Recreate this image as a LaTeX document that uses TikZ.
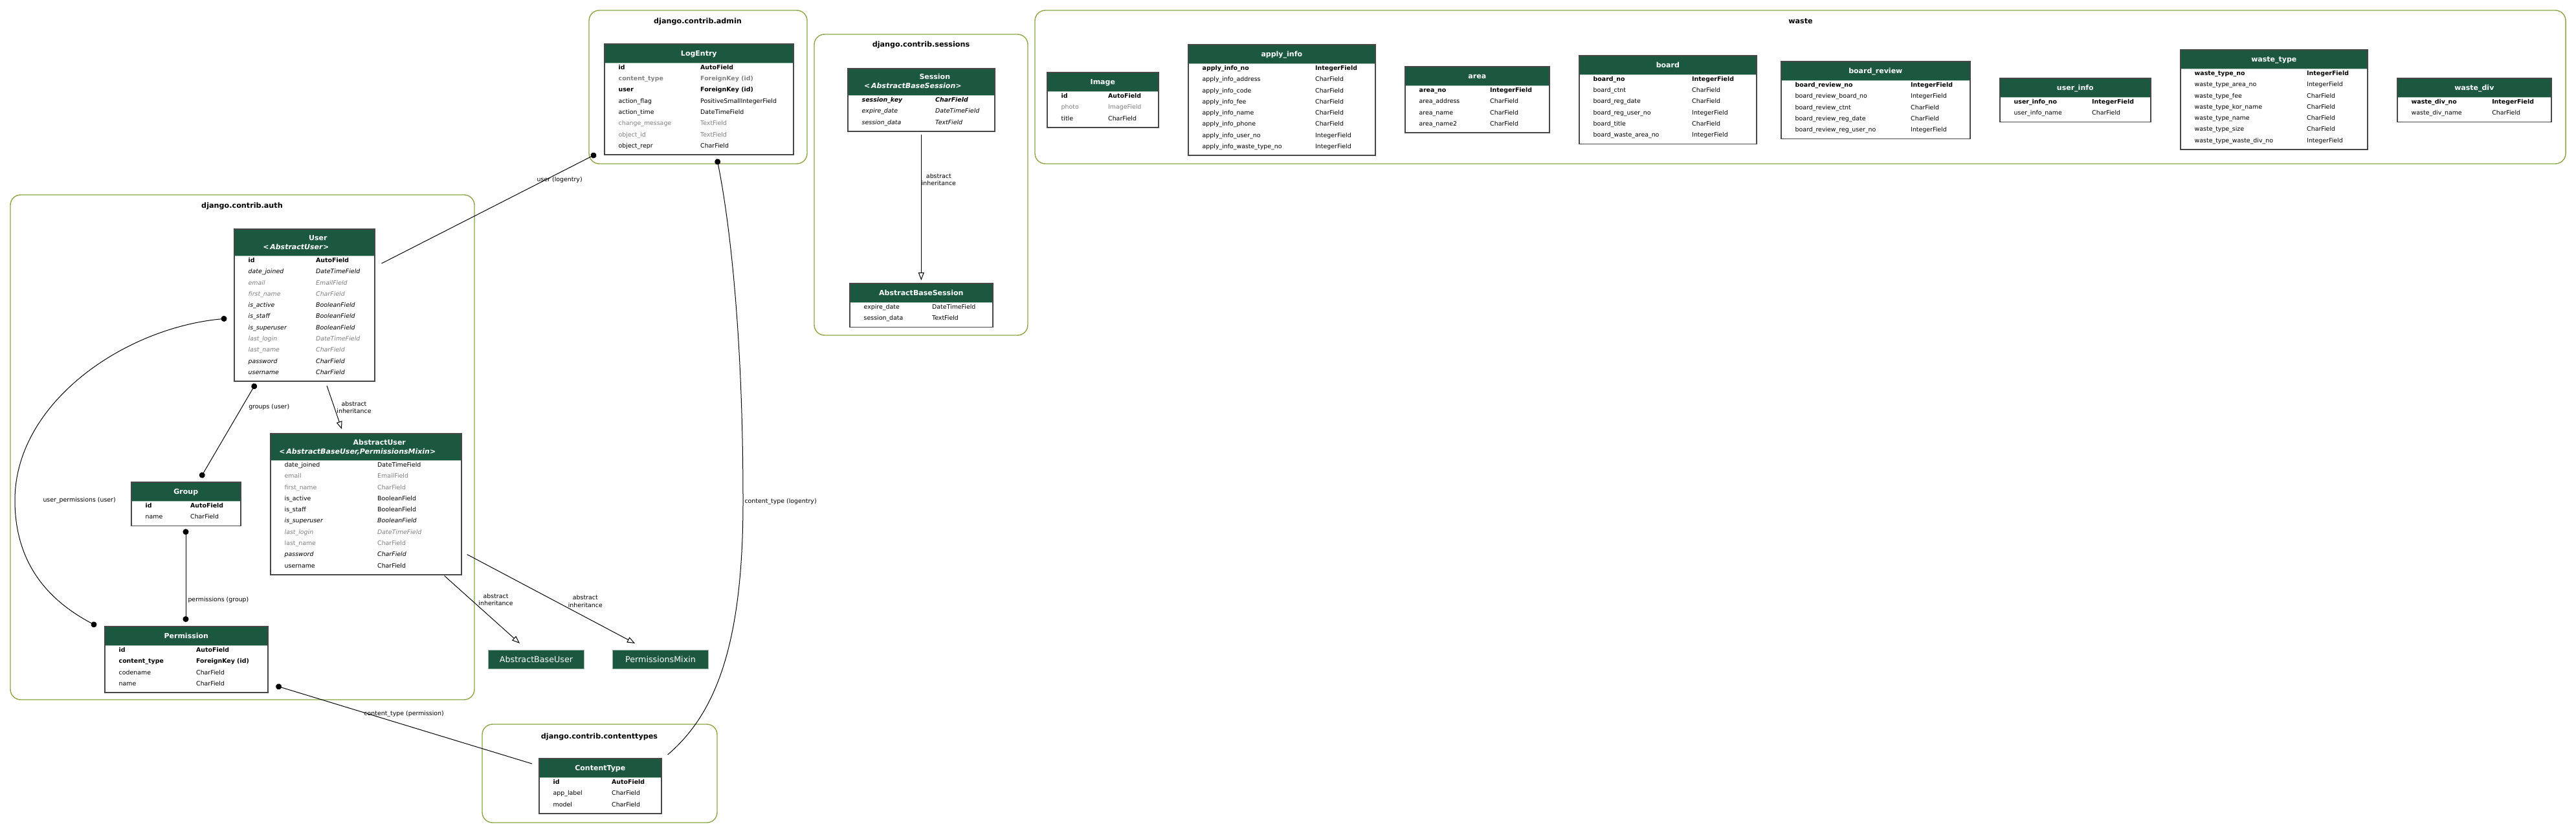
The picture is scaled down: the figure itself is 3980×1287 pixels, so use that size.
\documentclass[tikz,border=0pt]{standalone}
\usepackage{fontspec}
\setmainfont{DejaVu Sans}
\usetikzlibrary{arrows.meta}

\definecolor{hdrgreen}{RGB}{28,88,64}
\definecolor{pkgolive}{RGB}{140,165,70}
\definecolor{fldgray}{RGB}{128,128,128}

\newcommand{\fldfont}{\fontsize{9.4}{11}\selectfont}
\newcommand{\hdrfont}{\fontsize{11}{13}\selectfont\bfseries}

\tikzset{
  pkg/.style={draw=pkgolive, line width=1.4pt, rounded corners=16pt},
  pkgtitle/.style={font=\fontsize{11.2}{13}\selectfont\bfseries, inner sep=0pt, anchor=base},
  tablebox/.style={draw=black!72, line width=1.6pt, fill=white, inner sep=0pt, anchor=north west},
  hdrline/.style={draw=hdrgreen!35!white, line width=0.8pt},
  hdrtext/.style={text=white, font=\hdrfont, inner sep=0pt, anchor=base},
  fn/.style={font=\fldfont, inner sep=0pt, anchor=base west},
  fb/.style={fn, font=\fldfont\bfseries},
  fg/.style={fn, text=fldgray},
  fbg/.style={fb, text=fldgray},
  fi/.style={fn, font=\fldfont\itshape},
  fig/.style={fi, text=fldgray},
  fbi/.style={fn, font=\fldfont\bfseries\itshape},
  fk/.style={line width=1pt},
  dotend/.style={-{Circle[length=9pt]}},
  dotstart/.style={{Circle[length=9pt]}-},
  dotboth/.style={{Circle[length=9pt]}-{Circle[length=9pt]}},
  inh/.style={line width=1pt, -{Triangle[open, length=12pt, width=9pt]}},
  lbl/.style={font=\fontsize{9.4}{11.5}\selectfont, inner sep=0pt, align=center},
  stub/.style={fill=hdrgreen, draw=hdrgreen!45!white, line width=1pt, text=white,
    font=\fontsize{12.7}{14}\selectfont, minimum width=148pt, minimum height=29pt,
    inner sep=0pt, anchor=north west}
}

% [parents]{name}{left}{top}{width}{type column}{title}{rows}
\newcommand{\modeltable}[8][]{%
  \if\relax\detokenize{#1}\relax\def\hdrh{30}\else\def\hdrh{42}\fi
  \foreach \x [count=\k] in {#8} {\xdef\nrows{\k}}
  \pgfmathsetmacro{\tabh}{\hdrh+\nrows*17.3+3}
  \node[tablebox, minimum width=#5pt, minimum height=\tabh pt] (#2) at (#3,#4) {};
  \fill[hdrgreen] ([shift={(1.6pt,-1.6pt)}]#2.north west) rectangle ([shift={(-1.6pt,-\hdrh pt)}]#2.north east);
  \draw[hdrline] ([shift={(1.6pt,-\hdrh pt)}]#2.north west) -- ([shift={(-1.6pt,-\hdrh pt)}]#2.north east);
  \if\relax\detokenize{#1}\relax
    \node[hdrtext] (#2-title) at ([yshift=-19.5pt]#2.north) {#7};
  \else
    \node[hdrtext] (#2-title) at ([shift={(21pt,-18pt)}]#2.north) {#7};
    \node[hdrtext] (#2-parents) at ([shift={(-13pt,-32pt)}]#2.north) {<\,\textit{#1}>};
  \fi
  \foreach \st/\fname/\ftype [count=\k] in {#8} {
    \pgfmathsetmacro{\rowy}{\hdrh+10.4+(\k-1)*17.3}
    \node[\st] (#2-n\k) at ([shift={(22.5pt,-\rowy pt)}]#2.north west) {\fname};
    \node[\st] (#2-t\k) at ([shift={(#6pt,-\rowy pt)}]#2.north west) {\ftype};
  }
}

\begin{document}
\begin{tikzpicture}[x=1pt, y=-1pt]
  \path[use as bounding box, fill=white] (0,0) rectangle (3980,1287);

  % App frames
  \draw[pkg] (16,301) rectangle (733,1081);
  \node[pkgtitle] (auth) at (374,321) {django.contrib.auth};
  \draw[pkg] (910,16) rectangle (1247,253);
  \node[pkgtitle] (admin) at (1078,37) {django.contrib.admin};
  \draw[pkg] (1258,53) rectangle (1588,518);
  \node[pkgtitle] (sessions) at (1423,73) {django.contrib.sessions};
  \draw[pkg] (745,1119) rectangle (1108,1271);
  \node[pkgtitle] (contenttypes) at (926,1141) {django.contrib.contenttypes};
  \draw[pkg] (1599,16) rectangle (3964,253);
  \node[pkgtitle] (waste) at (2782,37) {waste};

  % django.contrib.auth
  \modeltable[AbstractUser]{User}{361}{353}{217}{127}{User}{fb/id/AutoField,
    fi/date\_joined/DateTimeField, fig/email/EmailField, fig/first\_name/CharField,
    fi/is\_active/BooleanField, fi/is\_staff/BooleanField, fi/is\_superuser/BooleanField,
    fig/last\_login/DateTimeField, fig/last\_name/CharField, fi/password/CharField,
    fi/username/CharField}
  \modeltable[AbstractBaseUser,PermissionsMixin]{AbstractUser}{417}{669}{295}{166}{AbstractUser}{
    fn/date\_joined/DateTimeField, fg/email/EmailField, fg/first\_name/CharField,
    fn/is\_active/BooleanField, fn/is\_staff/BooleanField, fi/is\_superuser/BooleanField,
    fig/last\_login/DateTimeField, fg/last\_name/CharField, fi/password/CharField,
    fn/username/CharField}
  \modeltable{Group}{202}{744}{169}{92}{Group}{fb/id/AutoField, fn/name/CharField}
  \modeltable{Permission}{161}{967}{252}{142}{Permission}{fb/id/AutoField,
    fb/content\_type/ForeignKey (id), fn/codename/CharField, fn/name/CharField}
  \node[stub] (AbstractBaseUser) at (754,1004) {AbstractBaseUser};
  \node[stub] (PermissionsMixin) at (946,1004) {PermissionsMixin};

  % django.contrib.admin
  \modeltable{LogEntry}{933}{67}{292}{149}{LogEntry}{fb/id/AutoField,
    fbg/content\_type/ForeignKey (id), fb/user/ForeignKey (id),
    fn/action\_flag/PositiveSmallIntegerField, fn/action\_time/DateTimeField,
    fg/change\_message/TextField, fg/object\_id/TextField, fn/object\_repr/CharField}

  % django.contrib.sessions
  \modeltable[AbstractBaseSession]{Session}{1309}{105}{227}{136}{Session}{
    fbi/session\_key/CharField, fi/expire\_date/DateTimeField, fi/session\_data/TextField}
  \modeltable{AbstractBaseSession}{1312}{437}{221}{128}{AbstractBaseSession}{
    fn/expire\_date/DateTimeField, fn/session\_data/TextField}

  % django.contrib.contenttypes
  \modeltable{ContentType}{832}{1171}{189}{113}{ContentType}{fb/id/AutoField,
    fn/app\_label/CharField, fn/model/CharField}

  % waste
  \modeltable{Image}{1617}{111}{172}{95}{Image}{fb/id/AutoField, fg/photo/ImageField,
    fn/title/CharField}
  \modeltable{applyinfo}{1835}{68}{289}{197}{apply\_info}{fb/apply\_info\_no/IntegerField,
    fn/apply\_info\_address/CharField, fn/apply\_info\_code/CharField,
    fn/apply\_info\_fee/CharField, fn/apply\_info\_name/CharField,
    fn/apply\_info\_phone/CharField, fn/apply\_info\_user\_no/IntegerField,
    fn/apply\_info\_waste\_type\_no/IntegerField}
  \modeltable{area}{2170}{102}{223}{132}{area}{fb/area\_no/IntegerField,
    fn/area\_address/CharField, fn/area\_name/CharField, fn/area\_name2/CharField}
  \modeltable{board}{2439}{85}{274}{175}{board}{fb/board\_no/IntegerField,
    fn/board\_ctnt/CharField, fn/board\_reg\_date/CharField,
    fn/board\_reg\_user\_no/IntegerField, fn/board\_title/CharField,
    fn/board\_waste\_area\_no/IntegerField}
  \modeltable{boardreview}{2751}{94}{292}{201}{board\_review}{
    fb/board\_review\_no/IntegerField, fn/board\_review\_board\_no/IntegerField,
    fn/board\_review\_ctnt/CharField, fn/board\_review\_reg\_date/CharField,
    fn/board\_review\_reg\_user\_no/IntegerField}
  \modeltable{userinfo}{3089}{120}{233}{143}{user\_info}{fb/user\_info\_no/IntegerField,
    fn/user\_info\_name/CharField}
  \modeltable{wastetype}{3368}{76}{289}{196}{waste\_type}{fb/waste\_type\_no/IntegerField,
    fn/waste\_type\_area\_no/IntegerField, fn/waste\_type\_fee/CharField,
    fn/waste\_type\_kor\_name/CharField, fn/waste\_type\_name/CharField,
    fn/waste\_type\_size/CharField, fn/waste\_type\_waste\_div\_no/IntegerField}
  \modeltable{wastediv}{3703}{120}{238}{147}{waste\_div}{fb/waste\_div\_no/IntegerField,
    fn/waste\_div\_name/CharField}

  % Relations
  \draw[fk, dotend] ([shift={(10pt,-54pt)}]User.north east) -- ([shift={(-12pt,2pt)}]LogEntry.south west)
    node[lbl, pos=0.83, below=6pt] (l-userlog) {user (logentry)};
  \draw[fk, dotboth] ([shift={(34pt,-3pt)}]User.south west) -- ([shift={(108pt,6pt)}]Group.north west)
    node[lbl, pos=0.25, right=10pt] (l-groups) {groups (user)};
  \draw[fk, dotboth] ([shift={(85pt,-4pt)}]Group.south west) -- ([shift={(126pt,6pt)}]Permission.north west)
    node[lbl, pos=0.76, right=3pt] (l-perms) {permissions (group)};
  \coordinate (upbend) at (23,773);
  \draw[fk, dotboth] ([shift={(-10.5pt,-139pt)}]User.north west)
    .. controls +(-160,15) and +(0,-150) .. (upbend)
    node[lbl, right=43pt] (l-userperms) {user\_permissions (user)}
    .. controls +(0,110) and +(-60,-32) .. ([shift={(-12pt,0pt)}]Permission.north west);
  \draw[fk, dotstart] ([shift={(11.7pt,11.3pt)}]Permission.south east) -- ([shift={(-10pt,-9pt)}]ContentType.north west)
    node[lbl, pos=0.5, above=12pt] (l-ctperm) {content\_type (permission)};
  \coordinate (ctbend) at (1148,775);
  \draw[fk, dotstart] ([shift={(28pt,-5.5pt)}]LogEntry.south)
    .. controls +(18,90) and +(0,-270) .. (ctbend)
    node[lbl, right=2pt] (l-ctlog) {content\_type (logentry)}
    .. controls +(0,230) and +(70,-60) .. ([shift={(9pt,5pt)}]ContentType.north east);

  % Abstract inheritance
  \draw[inh] ([shift={(144pt,-6pt)}]User.south west) -- ([shift={(111pt,6pt)}]AbstractUser.north west)
    node[lbl, pos=0.65, anchor=south west] (l-inh1) {abstract\\inheritance};
  \draw[inh] ([shift={(-27pt,-1pt)}]AbstractUser.south east) -- ([shift={(49pt,10pt)}]AbstractBaseUser.north west)
    node[lbl, pos=0.45, anchor=south west] (l-inh2) {abstract\\inheritance};
  \draw[inh] ([shift={(8pt,32pt)}]AbstractUser.south east) -- ([shift={(35pt,10pt)}]PermissionsMixin.north west)
    node[lbl, pos=0.6, anchor=south west] (l-inh3) {abstract\\inheritance};
  \draw[inh] ([yshift=-4pt]Session.south) -- ([yshift=4pt]AbstractBaseSession.north)
    node[lbl, pos=0.31, anchor=west] (l-inh4) {abstract\\inheritance};
\end{tikzpicture}
\end{document}
